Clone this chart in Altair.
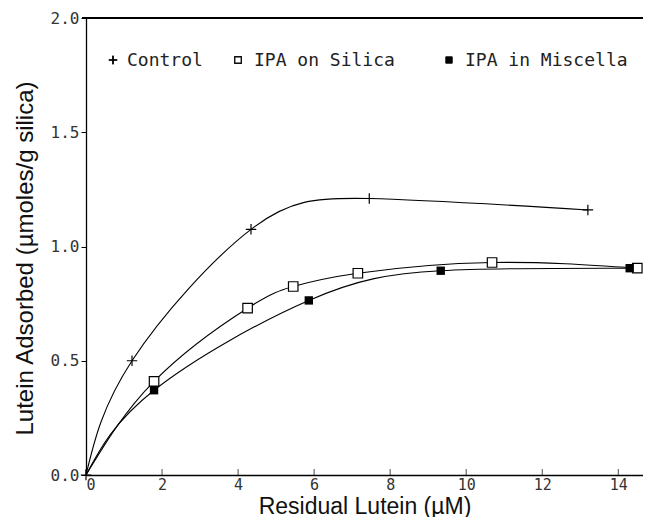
import altair as alt
import pandas as pd

# Data
control_x = [0.0, 1.21, 4.34, 7.45, 13.2]
control_y = [0.0, 0.50, 1.075, 1.21, 1.16]

silica_x = [0.0, 1.79, 4.25, 5.45, 7.15, 10.68, 14.5]
silica_y = [0.0, 0.41, 0.73, 0.825, 0.883, 0.93, 0.905]

miscella_x = [0.0, 1.79, 5.86, 9.33, 14.3]
miscella_y = [0.0, 0.371, 0.764, 0.894, 0.905]

x_ticks = [0, 2, 4, 6, 8, 10, 12, 14]
y_ticks = [0.0, 0.5, 1.0, 1.5, 2.0]
legend_labels = ["Control", "IPA on Silica", "IPA in Miscella"]

W, H = 557, 457
MONO = "DejaVu Sans Mono"
SANS = "Liberation Sans"

ctrl = pd.DataFrame({"x": control_x, "y": control_y})
sil = pd.DataFrame({"x": silica_x, "y": silica_y})
mis = pd.DataFrame({"x": miscella_x, "y": miscella_y})
ticks_df = pd.DataFrame({"x": x_ticks})

xs = alt.Scale(domain=[0, 14.65], nice=False, zero=True)
ys = alt.Scale(domain=[0, 2.0], nice=False)

xax = alt.Axis(values=x_ticks, format="d", ticks=False, grid=False, domainColor="black",
               domainWidth=1.3, labelFont=MONO, labelFontSize=15, labelColor="#333",
               labelPadding=2, title="Residual Lutein (\u00b5M)", titleFont=SANS,
               titleFontSize=23, titleFontWeight="normal", titleColor="#111",
               titleY=38, titleBaseline="alphabetic")
yax = alt.Axis(values=y_ticks, format=".1f", tickSize=5, tickColor="black", grid=False,
               domainColor="black", domainWidth=1.3, labelFont=MONO, labelFontSize=16,
               labelColor="#333", labelPadding=2, title="Lutein Adsorbed (\u00b5moles/g silica)",
               titleFont=SANS, titleFontSize=24, titleFontWeight="normal", titleColor="#111",
               titleX=-54, titleY=240, titleAngle=270, titleAlign="center",
               titleBaseline="alphabetic")

X = alt.X("x:Q", scale=xs, axis=xax)
Y = alt.Y("y:Q", scale=ys, axis=yax)

plus_path = "M-1,0L1,0M0,-1L0,1"
INTERP = "natural"

def curve(df):
    return alt.Chart(df).mark_line(color="black", strokeWidth=1.1, interpolate=INTERP).encode(
        x=alt.X("x:Q", scale=xs), y=alt.Y("y:Q", scale=ys))

ctrl_line = alt.Chart(ctrl).mark_line(color="black", strokeWidth=1.1, interpolate=INTERP).encode(x=X, y=Y)
sil_line = curve(sil)
mis_line = curve(mis)

ctrl_pts = alt.Chart(ctrl).mark_point(shape=plus_path, size=110, color="black", strokeWidth=1.2,
                                      filled=False, opacity=1).encode(x="x:Q", y="y:Q")
sil_pts = alt.Chart(sil).transform_filter("datum.x > 0").mark_point(
    shape="square", size=90, stroke="black", fill="white", fillOpacity=1, strokeWidth=1.2,
    opacity=1, filled=False).encode(x="x:Q", y="y:Q")
mis_pts = alt.Chart(mis).transform_filter("datum.x > 0").mark_point(
    shape="square", size=70, color="black", filled=True, opacity=1).encode(x="x:Q", y="y:Q")

xticks = alt.Chart(ticks_df).mark_tick(color="black", thickness=1, size=6, orient="vertical").encode(
    x="x:Q", y=alt.value(H - 3))

top_rule = alt.Chart(ticks_df).mark_rule(color="black", strokeWidth=1.3).encode(
    x=alt.value(-4), x2=alt.value(W), y=alt.value(0))

leg_df = pd.DataFrame({"label": legend_labels})
ly = 48
leg_sym1 = alt.Chart(leg_df).mark_point(shape=plus_path, size=70, color="black", strokeWidth=1.1,
                                        filled=False, opacity=1).encode(x=alt.value(27), y=alt.value(ly - 6))
leg_sym2 = alt.Chart(leg_df).mark_point(shape="square", size=40, stroke="black", fill="white",
                                        fillOpacity=1, strokeWidth=1.1, opacity=1, filled=False).encode(
    x=alt.value(152), y=alt.value(ly - 6))
leg_sym3 = alt.Chart(leg_df).mark_point(shape="square", size=45, color="black", filled=True,
                                        opacity=1).encode(x=alt.value(363), y=alt.value(ly - 6))

def leg_text(i, xpos):
    return alt.Chart(leg_df).transform_filter(f"datum.label == '{legend_labels[i]}'").mark_text(
        font=MONO, fontSize=18, align="left", baseline="alphabetic", color="#222").encode(
        text="label:N", x=alt.value(xpos), y=alt.value(ly))

chart = alt.layer(
    ctrl_line, sil_line, mis_line, ctrl_pts, sil_pts, mis_pts, xticks, top_rule,
    leg_sym1, leg_sym2, leg_sym3, leg_text(0, 41), leg_text(1, 168), leg_text(2, 379)
).properties(
    width=W, height=H,
    autosize=alt.AutoSizeParams(type="none"),
    padding={"left": 78, "top": 10, "right": 0, "bottom": 42},
).configure_view(stroke=None).configure(background="white")

chart.save("out.html", embed_options={"renderer": "svg", "actions": False})
